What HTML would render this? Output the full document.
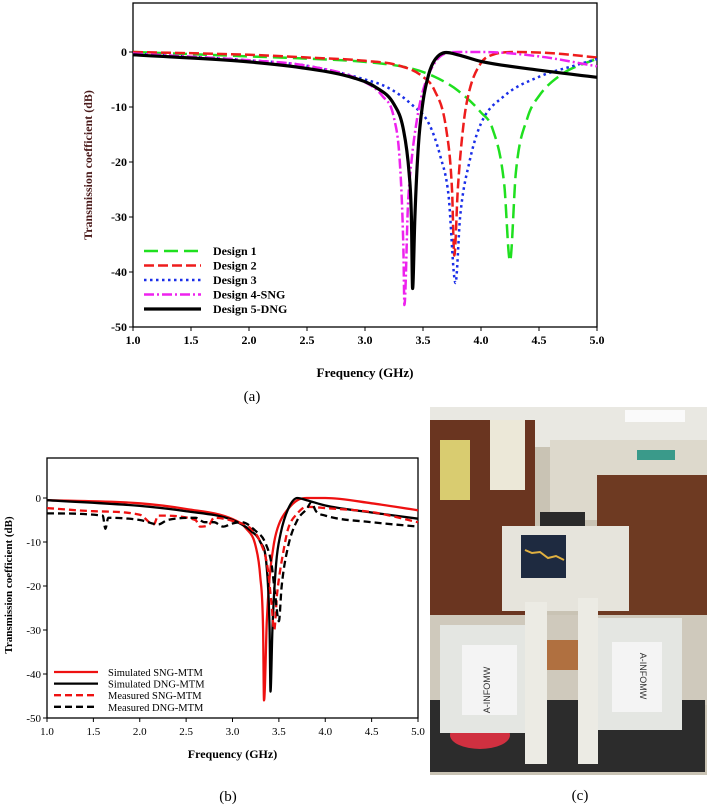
<!DOCTYPE html>
<html><head><meta charset="utf-8"><style>
html,body{margin:0;padding:0;background:#fff;}
svg{display:block;font-family:"Liberation Serif",serif;}
</style></head><body>
<svg id="root" width="708" height="806" viewBox="0 0 708 806" xmlns="http://www.w3.org/2000/svg">
<g id="chartA"></g>
<g id="chartB"></g>
<g>
 <rect x="430" y="407" width="277" height="368" fill="#c9c3b4"/>
 <rect x="430" y="407" width="277" height="40" fill="#e9e8e2"/>
 <rect x="625" y="410" width="60" height="12" fill="#fafafa"/>
 <rect x="550" y="440" width="157" height="80" fill="#ddd9cc"/>
 <rect x="637" y="450" width="38" height="10" fill="#3a9a8a"/>
 <rect x="597" y="475" width="110" height="140" fill="#6e3a22"/>
 <rect x="430" y="420" width="105" height="230" fill="#6a3520"/>
 <rect x="440" y="440" width="30" height="60" fill="#d9cc70"/>
 <rect x="490" y="420" width="35" height="70" fill="#ece8d8"/>
 <rect x="430" y="615" width="277" height="90" fill="#cfc9bc"/>
 <rect x="502" y="526" width="127" height="85" fill="#e6e4dc"/>
 <rect x="521" y="535" width="45" height="43" fill="#1e2a40"/>
 <polyline points="525,550 532,553 540,552 548,558 556,556 564,560" fill="none" stroke="#e0b040" stroke-width="2"/>
 <rect x="540" y="512" width="45" height="14" fill="#2a2a2a"/>
 <rect x="430" y="700" width="275" height="72" fill="#2c2c2c"/>
 <ellipse cx="480" cy="735" rx="30" ry="14" fill="#d03040"/>
 <rect x="440" y="625" width="100" height="108" fill="#e4e6e2"/>
 <rect x="462" y="645" width="55" height="70" fill="#f4f4f4"/>
 <rect x="592" y="618" width="90" height="112" fill="#e4e6e2"/>
 <rect x="612" y="642" width="50" height="70" fill="#f4f4f4"/>
 <rect x="525" y="602" width="22" height="162" fill="#ecebe4"/>
 <rect x="578" y="598" width="20" height="166" fill="#ecebe4"/>
 <rect x="547" y="640" width="31" height="30" fill="#b07040"/>
 <text x="490" y="690" font-family="Liberation Sans,sans-serif" font-size="9" fill="#333" transform="rotate(-90 490 690)" text-anchor="middle">A-INFOMW</text>
 <text x="640" y="676" font-family="Liberation Sans,sans-serif" font-size="9" fill="#333" transform="rotate(90 640 676)" text-anchor="middle">A-INFOMW</text>
</g>
<text x="252" y="401" font-size="15" text-anchor="middle">(a)</text>
<text x="228" y="801" font-size="15" text-anchor="middle">(b)</text>
<text x="580" y="800" font-size="15" text-anchor="middle">(c)</text>
</svg>
<script>
const NS="http://www.w3.org/2000/svg";
// ---- Chart A data ----
const aXTicks=["1.0","1.5","2.0","2.5","3.0","3.5","4.0","4.5","5.0"];
const aYTicks=[0,-10,-20,-30,-40,-50];
const a1f=[1.0,2.0,2.5,3.0,3.4,3.6,3.8,4.0,4.1,4.2,4.25,4.3,4.4,4.5,4.7,5.0];
const a1v=[0,-0.8,-1.2,-1.8,-3,-4.5,-7,-11,-14,-24,-38,-22,-12,-8,-4,-1.2];
const a2f=[1.0,2.0,2.5,3.0,3.3,3.5,3.6,3.7,3.75,3.77,3.8,3.85,3.9,4.0,4.1,4.3,4.6,5.0];
const a2v=[0,-0.5,-1,-1.6,-2.5,-4.5,-7,-14,-25,-37,-25,-13,-7,-2,-0.5,0,-0.2,-1];
const a3f=[1.0,2.0,2.5,3.0,3.2,3.4,3.55,3.65,3.72,3.78,3.82,3.9,4.0,4.2,4.5,4.8,5.0];
const a3v=[-0.3,-1.5,-2.5,-5,-6.5,-9.5,-13,-19,-26,-42,-30,-20,-13,-8,-4.5,-2.5,-1.3];
const a4f=[1.0,2.0,2.5,3.0,3.15,3.25,3.3,3.33,3.34,3.37,3.4,3.45,3.5,3.6,3.7,3.8,4.0,4.5,5.0];
const a4v=[-0.3,-1.5,-2.5,-5.5,-8,-12,-20,-35,-46,-28,-20,-12,-7,-2,-0.2,0,0,-0.8,-2.6];
const a5f=[1.0,2.0,2.5,2.9,3.1,3.25,3.33,3.38,3.4,3.41,3.43,3.46,3.5,3.55,3.6,3.7,3.8,4.0,4.5,5.0];
const a5v=[-0.5,-1.8,-3,-4.7,-6.5,-9.5,-14,-22,-30,-43,-30,-17,-9,-4,-1.5,-0.1,-0.5,-1.7,-3.3,-4.6];
const aNames=["Design 1","Design 2","Design 3","Design 4-SNG","Design 5-DNG"];
// ---- Chart B data ----
const bXTicks=["1.0","1.5","2.0","2.5","3.0","3.5","4.0","4.5","5.0"];
const bYTicks=[0,-10,-20,-30,-40,-50];
const b1f=[1.0,2.0,2.5,3.0,3.15,3.25,3.3,3.33,3.34,3.37,3.4,3.45,3.5,3.6,3.7,3.8,4.0,4.5,5.0];
const b1v=[-0.5,-1.2,-2.5,-4.8,-7,-11,-18,-30,-46,-28,-18,-10,-6,-2.5,-0.5,0,0,-1.2,-2.8];
const b2f=[1.0,2.0,2.5,3.0,3.2,3.3,3.37,3.4,3.41,3.43,3.47,3.52,3.6,3.7,3.8,4.0,4.5,5.0];
const b2v=[-0.5,-1.8,-3,-5,-7.5,-10,-16,-30,-44,-30,-15,-8,-2.5,0,-0.5,-1.7,-3.3,-4.7];
const b3f=[1.0,1.5,2.0,2.15,2.2,2.6,2.65,2.75,2.8,3.0,3.2,3.3,3.38,3.42,3.45,3.48,3.55,3.6,3.7,3.8,4.0,4.5,5.0];
const b3v=[-2.3,-3,-3.8,-6,-4,-5,-6.5,-6,-4.5,-5.2,-7,-10,-16,-24,-30,-22,-12,-7,-3.5,-2,-2.3,-3.2,-5.5];
const b4f=[1.0,1.6,1.63,1.66,2.0,2.2,2.3,2.6,2.7,2.8,2.9,3.0,3.1,3.25,3.35,3.42,3.46,3.5,3.53,3.6,3.7,3.8,3.85,3.9,4.0,4.5,5.0];
const b4v=[-3.5,-4,-7,-4.5,-5,-6,-5,-4.5,-5.5,-5.5,-6.5,-5.8,-5.5,-7.5,-10,-15,-22,-28,-20,-11,-5,-2.5,-1,-3,-4,-5.5,-6.5];
const bNames=["Simulated SNG-MTM","Simulated DNG-MTM","Measured SNG-MTM","Measured DNG-MTM"];

function el(tag,attrs,parent,txt){const e=document.createElementNS(NS,tag);for(const k in attrs)e.setAttribute(k,attrs[k]);if(txt!==undefined)e.textContent=txt;parent.appendChild(e);return e;}

// monotone cubic path through pixel points
function monoPath(xs,ys){
  const n=xs.length;const d=[],m=[];
  for(let i=0;i<n-1;i++)d.push((ys[i+1]-ys[i])/(xs[i+1]-xs[i]));
  m[0]=d[0];m[n-1]=d[n-2];
  for(let i=1;i<n-1;i++){m[i]=(d[i-1]*d[i]<=0)?0:(d[i-1]+d[i])/2;}
  for(let i=0;i<n-1;i++){
    if(d[i]===0){m[i]=0;m[i+1]=0;continue;}
    const a=m[i]/d[i],b=m[i+1]/d[i],s=a*a+b*b;
    if(s>9){const t=3/Math.sqrt(s);m[i]=t*a*d[i];m[i+1]=t*b*d[i];}
  }
  let p='M'+xs[0].toFixed(1)+','+ys[0].toFixed(1);
  for(let i=0;i<n-1;i++){
    const h=(xs[i+1]-xs[i])/3;
    p+=' C'+(xs[i]+h).toFixed(1)+','+(ys[i]+m[i]*h).toFixed(1)+' '+(xs[i+1]-h).toFixed(1)+','+(ys[i+1]-m[i+1]*h).toFixed(1)+' '+xs[i+1].toFixed(1)+','+ys[i+1].toFixed(1);
  }
  return p;
}

function drawChart(g,cfg){
  const sx=f=>cfg.x0+(f-1)/4*(cfg.x1-cfg.x0);
  const sy=v=>cfg.y0+(-v)/50*(cfg.y50-cfg.y0);
  const frame=el('rect',{x:cfg.x0,y:cfg.top,width:cfg.x1-cfg.x0,height:cfg.y50-cfg.top,fill:'none',stroke:'#000','stroke-width':1.3},g);
  
  
  cfg.yt.forEach(v=>{
    el('line',{x1:cfg.x0-4,x2:cfg.x0,y1:sy(v),y2:sy(v),stroke:'#000'},g);
    const l=el('text',{x:cfg.x0-6,y:sy(v)+4,'text-anchor':'end','font-size':cfg.fs,'font-weight':cfg.fw},g,String(v));
    
    
  });
  cfg.xt.forEach(s=>{
    const f=parseFloat(s);
    el('line',{x1:sx(f),x2:sx(f),y1:cfg.y50,y2:cfg.y50+4,stroke:'#000'},g);
    const l=el('text',{x:sx(f),y:cfg.y50+17,'text-anchor':'middle','font-size':cfg.fs,'font-weight':cfg.fw},g,s);
    
    
  });
  const xt=el('text',{x:(cfg.x0+cfg.x1)/2,y:cfg.xTitleY,'text-anchor':'middle','font-size':cfg.fs+1,'font-weight':'bold'},g,'Frequency (GHz)');
  
  
  const yt=el('text',{x:cfg.yTitleX,y:cfg.yTitleY,'text-anchor':'middle','font-size':cfg.fs,'font-weight':'bold',fill:cfg.yTitleColor,transform:`rotate(-90 ${cfg.yTitleX} ${cfg.yTitleY})`},g,'Transmission coefficient  (dB)');
  
  
  cfg.series.forEach((s,i)=>{
    const xs=s.f.map(sx),ys=s.v.map(sy);
    const p=el('path',{d:monoPath(xs,ys),fill:'none',stroke:s.c,'stroke-width':s.w,'stroke-dasharray':s.d||'none','stroke-linejoin':'round'},g);
    
    
    const ly=cfg.legY+i*cfg.legDy;
    el('line',{x1:cfg.legX,x2:cfg.legX+cfg.legL,y1:ly,y2:ly,stroke:s.c,'stroke-width':s.w,'stroke-dasharray':s.d||'none'},g);
    const lt=el('text',{x:cfg.legX+cfg.legL+cfg.legGap,y:ly+4,'font-size':cfg.legFs,'font-weight':cfg.fw},g,s.n);
    
    
  });
}
drawChart(document.getElementById('chartA'),{x0:133,x1:597,top:3,y0:52,y50:327,fs:12,fw:'bold',
  xt:aXTicks,yt:aYTicks,xTitleY:377,yTitleX:92,yTitleY:165,yTitleColor:'#4a1a1a',
  legX:144,legL:57,legGap:12,legY:251,legDy:14.5,legFs:12,
  series:[
   {f:a1f,v:a1v,c:'#1fe01f',w:2.5,d:'14,6',n:aNames[0]},
   {f:a2f,v:a2v,c:'#ee1c1c',w:2.5,d:'10,4',n:aNames[1]},
   {f:a3f,v:a3v,c:'#1a2ee8',w:2.5,d:'2.5,3.5',n:aNames[2]},
   {f:a4f,v:a4v,c:'#ee22ee',w:2.5,d:'10,3,2,3',n:aNames[3]},
   {f:a5f,v:a5v,c:'#000',w:3.2,d:null,n:aNames[4]}]});
drawChart(document.getElementById('chartB'),{x0:47,x1:418,top:458,y0:498,y50:718,fs:11,fw:'normal',
  xt:bXTicks,yt:bYTicks,xTitleY:758,yTitleX:12,yTitleY:585,yTitleColor:'#000',
  legX:54,legL:44,legGap:10,legY:672,legDy:11.6,legFs:10.5,
  series:[
   {f:b1f,v:b1v,c:'#ee1111',w:2.3,d:null,n:bNames[0]},
   {f:b2f,v:b2v,c:'#000',w:2.3,d:null,n:bNames[1]},
   {f:b3f,v:b3v,c:'#ee1111',w:2.3,d:'7,4',n:bNames[2]},
   {f:b4f,v:b4v,c:'#000',w:2.3,d:'7,4',n:bNames[3]}]});
</script>
</body></html>
